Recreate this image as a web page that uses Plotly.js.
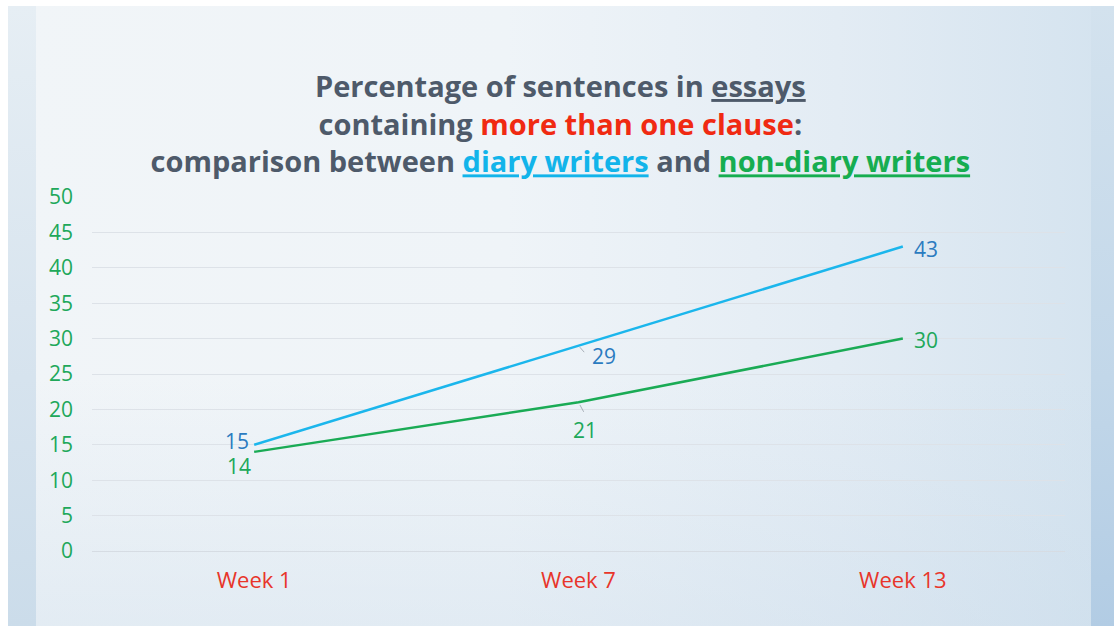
<!DOCTYPE html>
<html>
<head>
<meta charset="utf-8">
<script src="https://cdn.plot.ly/plotly-3.0.1.min.js"></script>
<style>
  html, body { margin: 0; padding: 0; width: 1114px; height: 626px; overflow: hidden; background: #ffffff; }
  #bg { position: absolute; left: 8px; top: 6px; width: 1106px; height: 620px;
        background: linear-gradient(90deg, #f1f5f8 0%, #eff4f8 45%, #e3ecf4 75%, #d4e3ef 100%); }
  #bg2 { position: absolute; left: 8px; top: 6px; width: 1106px; height: 620px;
        background: linear-gradient(180deg, rgba(255,255,255,0) 0%, rgba(255,255,255,0) 60%, rgba(200,218,234,0.35) 100%); }
  #lstrip { position: absolute; left: 8px; top: 6px; width: 28px; height: 620px;
        background: linear-gradient(180deg, #e6eef4 0%, #d6e3ee 60%, #cbdcea 100%); }
  #rstrip { position: absolute; left: 1091px; top: 6px; width: 23px; height: 620px;
        background: linear-gradient(180deg, #d3e2ee 0%, #c2d7e9 60%, #b2cce4 100%); }
  #chart { position: absolute; left: 0; top: 0; width: 1114px; height: 626px; }
</style>
</head>
<body>
<div id="bg"></div>
<div id="bg2"></div>
<div id="lstrip"></div>
<div id="rstrip"></div>
<div id="chart"></div>
<script>
// ---- data ----
const weeks = ["Week 1", "Week 7", "Week 13"];
const diaryWriters = [15, 29, 43];
const nonDiaryWriters = [14, 21, 30];
const yTicks = [0, 5, 10, 15, 20, 25, 30, 35, 40, 45, 50];

const FONT = "'Open Sans', Lato, 'DejaVu Sans', sans-serif";
const diaryLine = "#1bb6ec", nonDiaryLine = "#1aab55";
const diaryText = "#2b7bc0", nonDiaryText = "#20a85a";

const traces = [
  { x: weeks, y: diaryWriters, type: "scatter", mode: "lines", name: "diary writers",
    line: { color: diaryLine, width: 2.5 }, hoverinfo: "skip" },
  { x: weeks, y: nonDiaryWriters, type: "scatter", mode: "lines", name: "non-diary writers",
    line: { color: nonDiaryLine, width: 2.5 }, hoverinfo: "skip" }
];

// label offsets (style only)
const diaryShift = [[-17, 4], [25, -10], [23, -2]];
const nonDiaryShift = [[-15, -14], [6, -28], [23, -1]];
const annotations = [];
weeks.forEach((w, i) => {
  annotations.push({ x: w, y: diaryWriters[i], xref: "x", yref: "y", text: String(diaryWriters[i]),
    showarrow: false, xshift: diaryShift[i][0], yshift: diaryShift[i][1],
    font: { family: FONT, size: 21, color: diaryText } });
  annotations.push({ x: w, y: nonDiaryWriters[i], xref: "x", yref: "y", text: String(nonDiaryWriters[i]),
    showarrow: false, xshift: nonDiaryShift[i][0], yshift: nonDiaryShift[i][1],
    font: { family: FONT, size: 21, color: nonDiaryText } });
});
// small leader lines for the middle labels
annotations.push({ x: weeks[1], y: diaryWriters[1], xref: "x", yref: "y", text: "",
  showarrow: true, arrowhead: 0, arrowwidth: 1, arrowcolor: "#a9b0b8",
  ax: 7, ay: 8, standoff: 2 });
annotations.push({ x: weeks[1], y: nonDiaryWriters[1], xref: "x", yref: "y", text: "",
  showarrow: true, arrowhead: 0, arrowwidth: 1, arrowcolor: "#a9b0b8",
  ax: 6, ay: 11, standoff: 3 });

const layout = {
  width: 1114, height: 626,
  paper_bgcolor: "rgba(0,0,0,0)", plot_bgcolor: "rgba(0,0,0,0)",
  margin: { l: 92, r: 49, t: 197, b: 75 },
  showlegend: false,
  title: {
    text: "<b>Percentage of sentences in <u>essays</u><br>containing <span style='color:#f02a12'>more than one clause</span>:<br>comparison between <span style='color:#12b4ea'><u>diary writers</u></span> and <span style='color:#16ad50'><u>non-diary writers</u></span></b>",
    font: { family: FONT, size: 29, color: "#4e5a6a" },
    x: 0.503, xref: "container", xanchor: "center",
    y: 1 - 97 / 626, yref: "container", yanchor: "top"
  },
  xaxis: {
    type: "category", range: [-0.5, 2.5],
    showgrid: false, zeroline: false, showline: false, ticks: "",
    tickfont: { family: FONT, size: 22, color: "#e8352a" },
    ticklabelstandoff: 14
  },
  yaxis: {
    range: [0, 50], tickvals: yTicks, ticktext: yTicks.map(String),
    showgrid: true, gridcolor: "#dde2e8", gridwidth: 1,
    zeroline: true, zerolinecolor: "#d6dce3", zerolinewidth: 1,
    showline: false, ticks: "",
    tickfont: { family: FONT, size: 21, color: "#20a85a" },
    ticklabelstandoff: 18
  },
  annotations: annotations
};

Plotly.newPlot("chart", traces, layout, { displayModeBar: false, staticPlot: true });
</script>
</body>
</html>
